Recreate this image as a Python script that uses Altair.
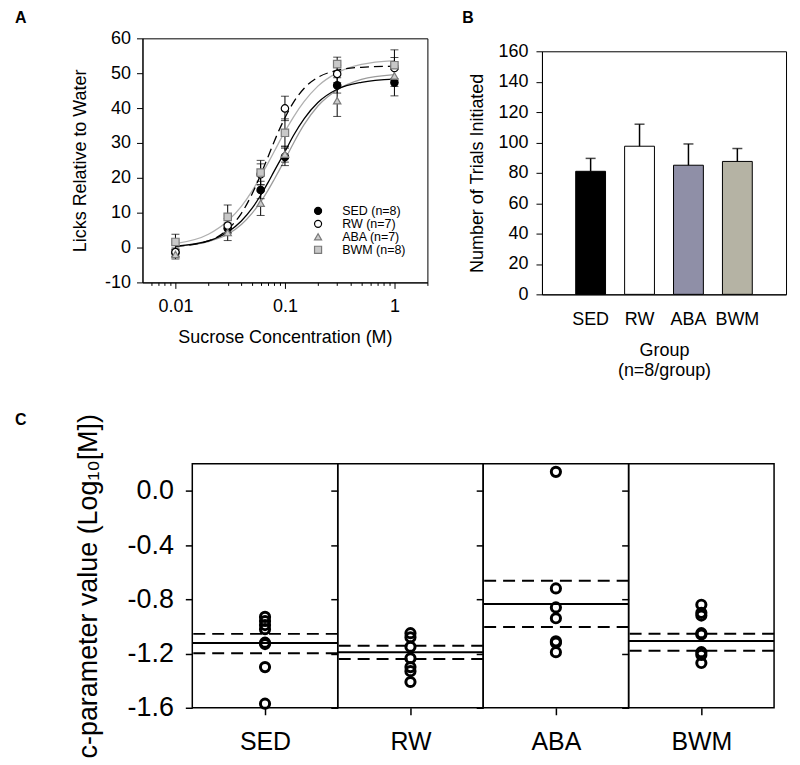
import altair as alt
import pandas as pd

FONT = "Liberation Sans"
MINUS = "\u2212"

groups = ["SED", "RW", "ABA", "BWM"]
legend_labels = ["SED (n=8)", "RW (n=7)", "ABA (n=7)", "BWM (n=8)"]

# ---------------- Panel A: lick curves ----------------
conc = [0.01, 0.03, 0.06, 0.1, 0.3, 1.0]
sed_mean = [-1.5, 5.5, 16.5, 26.0, 46.5, 47.3]
sed_sem = [1.0, 1.5, 2.5, 2.5, 2.2, 3.8]
rw_mean = [-1.3, 6.3, 21.0, 39.9, 49.8, 51.5]
rw_sem = [1.2, 2.0, 3.0, 3.5, 2.5, 3.0]
aba_mean = [-2.0, 4.3, 12.7, 26.8, 42.1, 49.2]
aba_sem = [1.3, 2.3, 3.5, 2.3, 4.5, 3.0]
bwm_mean = [1.6, 8.8, 21.5, 32.9, 52.6, 52.3]
bwm_sem = [2.2, 3.4, 3.5, 4.0, 2.0, 4.4]

curve_x = [0.01, 0.02, 0.03, 0.04, 0.05, 0.06, 0.07, 0.08, 0.1, 0.12, 0.15, 0.2, 0.3, 0.5, 1.0]
sed_curve = [0.4, 1.9, 4.4, 7.6, 11.2, 15.0, 18.6, 22.0, 27.5, 32.2, 37.0, 41.6, 45.4, 47.4, 48.3]
rw_curve = [0.3, 1.9, 5.2, 9.8, 15.3, 20.9, 26.0, 30.5, 37.2, 41.7, 45.7, 48.8, 50.8, 51.7, 52.0]
aba_curve = [0.4, 1.7, 3.8, 6.6, 9.8, 13.1, 16.4, 19.6, 25.2, 30.0, 35.3, 40.6, 45.2, 48.2, 49.6]
bwm_curve = [1.1, 3.8, 7.6, 11.8, 16.2, 20.4, 24.2, 27.6, 33.3, 37.5, 41.9, 46.3, 50.1, 52.5, 53.6]

x_tick_values = [0.006, 0.007, 0.008, 0.009, 0.01, 0.02, 0.03, 0.04, 0.05, 0.06, 0.07, 0.08, 0.09,
                 0.1, 0.2, 0.3, 0.4, 0.5, 0.6, 0.7, 0.8, 0.9, 1, 2]
y_tick_values_A = [-10, 0, 10, 20, 30, 40, 50, 60]

# ---------------- Panel B: trials ----------------
trials_mean = [81, 97.5, 85, 87.5]
trials_upper = [89.5, 112, 99, 96]
bar_colors = ["#000000", "#ffffff", "#8f8fa7", "#b5b3a4"]
y_tick_values_B = [0, 20, 40, 60, 80, 100, 120, 140, 160]

# ---------------- Panel C: c-parameter ----------------
sed_c = [-0.93, -0.96, -0.99, -1.02, -1.12, -1.13, -1.30, -1.57]
rw_c = [-1.05, -1.08, -1.15, -1.235, -1.30, -1.33, -1.41]
aba_c = [0.14, -0.72, -0.86, -0.94, -1.11, -1.12, -1.19]
bwm_c = [-0.84, -0.90, -0.92, -1.05, -1.06, -1.19, -1.21, -1.27]
c_mean = [-1.123, -1.19, -0.835, -1.108]
c_lo = [-1.198, -1.24, -1.005, -1.18]
c_hi = [-1.055, -1.143, -0.664, -1.054]
y_tick_values_C = [-1.6, -1.2, -0.8, -0.4, 0.0]

# ---------------- build tables ----------------
a_rows = []
for g, lab, means, sems in zip(groups, legend_labels,
                               [sed_mean, rw_mean, aba_mean, bwm_mean],
                               [sed_sem, rw_sem, aba_sem, bwm_sem]):
    for c, m, s in zip(conc, means, sems):
        a_rows.append(dict(group=g, label=lab, conc=c, mean=m, lo=m - s, hi=m + s))
dfA = pd.DataFrame(a_rows)

curve_rows = []
for g, ys in zip(groups, [sed_curve, rw_curve, aba_curve, bwm_curve]):
    for c, y in zip(curve_x, ys):
        curve_rows.append(dict(group=g, conc=c, y=y))
dfCurve = pd.DataFrame(curve_rows)

FS = 18  # font size panels A/B

# ---------------- Panel A chart ----------------
x_scale_A = alt.Scale(type="log", domain=[0.005, 2], nice=False)
y_scale_A = alt.Scale(domain=[-10, 60], nice=False, zero=False)
decade_test = "datum.value == 0.01 || datum.value == 0.1 || datum.value == 1"
x_axis_A = alt.Axis(
    values=x_tick_values,
    labelExpr="datum.value == 0.01 ? '0.01' : datum.value == 0.1 ? '0.1' : datum.value == 1 ? '1' : ''",
    tickSize={"condition": {"test": decade_test, "value": 6}, "value": 3},
    labelFontSize=FS, labelPadding=9, labelOverlap=False, labelFlush=False,
    title="Sucrose Concentration (M)", titleFontSize=FS, titlePadding=13,
)
y_axis_A = alt.Axis(
    values=y_tick_values_A,
    labelExpr="replace(datum.label, '" + MINUS + "', '-')",
    tickSize=6, labelFontSize=FS, labelPadding=6,
    title="Licks Relative to Water", titleFontSize=FS, titlePadding=15,
)


def xA():
    return alt.X("conc:Q", scale=x_scale_A, axis=x_axis_A)


def yA(field):
    return alt.Y(f"{field}:Q", scale=y_scale_A, axis=y_axis_A)


curve_style = {
    "ABA": ("#9c9c9c", None),
    "BWM": ("#b0b0b0", None),
    "SED": ("#000000", None),
    "RW": ("#000000", [9, 5]),
}
curve_layers = []
for g in ["ABA", "BWM", "SED", "RW"]:
    col, dash = curve_style[g]
    kw = dict(color=col, strokeWidth=1.3, interpolate="monotone")
    if dash:
        kw["strokeDash"] = dash
    curve_layers.append(
        alt.Chart(dfCurve).transform_filter(alt.datum.group == g)
        .mark_line(**kw).encode(x=xA(), y=yA("y"))
    )

err_A = alt.Chart(dfA).mark_rule(color="black", strokeWidth=1).encode(x=xA(), y=yA("lo"), y2="hi:Q")
cap_lo_A = alt.Chart(dfA).mark_tick(color="black", orient="horizontal", size=8, thickness=1).encode(x=xA(), y=yA("lo"))
cap_hi_A = alt.Chart(dfA).mark_tick(color="black", orient="horizontal", size=8, thickness=1).encode(x=xA(), y=yA("hi"))

legA = alt.Legend(orient="none", legendX=170, legendY=167, title=None, labelFontSize=12.5,
                  labelFont=FONT, labelFontWeight="normal", labelColor="black", symbolSize=50,
                  symbolStrokeWidth=1.2, rowPadding=-2, labelOffset=18, padding=0)
points_A = alt.Chart(dfA).mark_point(size=55, opacity=1, fillOpacity=1, strokeWidth=1.2).encode(
    x=xA(), y=yA("mean"),
    shape=alt.Shape("label:N", scale=alt.Scale(domain=legend_labels,
                    range=["circle", "circle", "triangle-up", "square"]), legend=legA),
    fill=alt.Fill("label:N", scale=alt.Scale(domain=legend_labels,
                  range=["#000000", "#ffffff", "#cccccc", "#c8c8c8"]), legend=legA),
    stroke=alt.Stroke("label:N", scale=alt.Scale(domain=legend_labels,
                      range=["#000000", "#000000", "#7a7a7a", "#7a7a7a"]), legend=legA),
)

chart_A = alt.layer(*curve_layers, err_A, cap_lo_A, cap_hi_A, points_A).properties(
    width=286, height=245, title=alt.TitleParams("A", dx=-128, offset=3)
)

# ---------------- Panel B chart ----------------
dfB = pd.DataFrame({"group": groups, "mean": trials_mean, "upper": trials_upper})
x_B = alt.X("group:N", sort=groups,
            scale=alt.Scale(domain=groups, paddingInner=0.39, paddingOuter=0.69),
            axis=alt.Axis(ticks=False, labelAngle=0, labelFontSize=FS, labelPadding=16,
                          title=["Group", "(n=8/group)"], titleFontSize=FS, titlePadding=13))
y_scale_B = alt.Scale(domain=[0, 160], nice=False)
y_axis_B = alt.Axis(values=y_tick_values_B, tickSize=6, labelFontSize=FS, labelPadding=8,
                    title="Number of Trials Initiated", titleFontSize=FS, titlePadding=12)


def yB(field):
    return alt.Y(f"{field}:Q", scale=y_scale_B, axis=y_axis_B)


bars_B = alt.Chart(dfB).mark_bar(stroke="black", strokeWidth=1).encode(
    x=x_B, y=yB("mean"),
    fill=alt.Fill("group:N", scale=alt.Scale(domain=groups, range=bar_colors), legend=None),
)
err_B = alt.Chart(dfB).mark_rule(color="black", strokeWidth=1.5).encode(x=x_B, y=yB("mean"), y2="upper:Q")
cap_B = alt.Chart(dfB).mark_tick(color="black", orient="horizontal", size=10, thickness=1.5).encode(
    x=x_B, y=yB("upper"))
chart_B = alt.layer(bars_B, err_B, cap_B).properties(width=245, height=244)


def spacer(w, h, title=None):
    ch = alt.Chart(pd.DataFrame({"v": [0]})).mark_point(size=0, opacity=0).encode(
        x=alt.value(0), y=alt.value(0))
    props = dict(width=w, height=h, view=alt.ViewBackground(stroke="transparent"))
    if title is not None:
        props["title"] = title
    return ch.properties(**props)


wrap_B = alt.vconcat(spacer(1, 13, alt.TitleParams("B", dx=-80, offset=12)), chart_B,
                     spacing=0, bounds="flush")

indep = dict(x="independent", y="independent", fill="independent",
             stroke="independent", shape="independent")
top_row = alt.hconcat(chart_A, wrap_B, spacing=115, bounds="flush").resolve_scale(**indep)

# ---------------- Panel C charts ----------------
y_scale_C = alt.Scale(domain=[-1.6, 0.2], nice=False, zero=False)
c_values = [sed_c, rw_c, aba_c, bwm_c]
c_panels = []
for i, g in enumerate(groups):
    first = i == 0
    if first:
        y_axis_C = alt.Axis(values=y_tick_values_C,
                            labelExpr="replace(format(datum.value, '.1f'), '" + MINUS + "', '-')",
                            tickSize=7, tickWidth=1.5, labelFontSize=27, labelPadding=12,
                            domain=False, title="c-parameter value (Log\u2081\u2080[M])",
                            titleFontSize=27, titlePadding=25)
    else:
        y_axis_C = alt.Axis(values=y_tick_values_C, labels=False, tickSize=7, tickWidth=1.5,
                            domain=False, title=None)
    x_C = alt.X("group:N", axis=alt.Axis(title=None, labelAngle=0, labelFontSize=25, tickSize=7,
                                          tickWidth=1.5, labelPadding=15, domain=False))
    dfp = pd.DataFrame({"group": [g] * len(c_values[i]), "value": c_values[i]})
    dfs = pd.DataFrame({"group": [g], "mean": [c_mean[i]], "lo": [c_lo[i]], "hi": [c_hi[i]]})
    pts = alt.Chart(dfp).mark_point(shape="circle", size=85, strokeWidth=3, color="black",
                                    opacity=1, filled=False).encode(
        x=x_C, y=alt.Y("value:Q", scale=y_scale_C, axis=y_axis_C))
    mean_r = alt.Chart(dfs).mark_rule(color="black", strokeWidth=2).encode(
        y=alt.Y("mean:Q", scale=y_scale_C, axis=y_axis_C))
    lo_r = alt.Chart(dfs).mark_rule(color="black", strokeWidth=2, strokeDash=[12, 7]).encode(
        y=alt.Y("lo:Q", scale=y_scale_C, axis=y_axis_C))
    hi_r = alt.Chart(dfs).mark_rule(color="black", strokeWidth=2, strokeDash=[12, 7]).encode(
        y=alt.Y("hi:Q", scale=y_scale_C, axis=y_axis_C))
    c_panels.append(alt.layer(lo_r, hi_r, mean_r, pts).properties(
        width=146, height=245, view=alt.ViewBackground(stroke="black", strokeWidth=1.5)))

bottom_row = alt.hconcat(spacer(50, 245, alt.TitleParams("C", dx=-128, offset=36)), *c_panels,
                         spacing=0, bounds="flush").resolve_scale(x="independent", y="independent")

chart = alt.vconcat(top_row, bottom_row, spacing=31).resolve_scale(
    **indep
).properties(
    padding={"left": 6, "top": 0, "right": 5, "bottom": 5}
).configure_axis(
    labelFont=FONT, titleFont=FONT, titleFontWeight="normal", domainColor="black",
    tickColor="black", labelColor="black", titleColor="black", grid=False
).configure_view(
    stroke="black", strokeWidth=1
).configure_title(
    font=FONT, fontSize=16, fontWeight="bold", color="black", anchor="start",
    frame="group", baseline="alphabetic"
).configure_legend(labelFont=FONT)

chart.save("out.html", embed_options={"renderer": "svg", "actions": False})
